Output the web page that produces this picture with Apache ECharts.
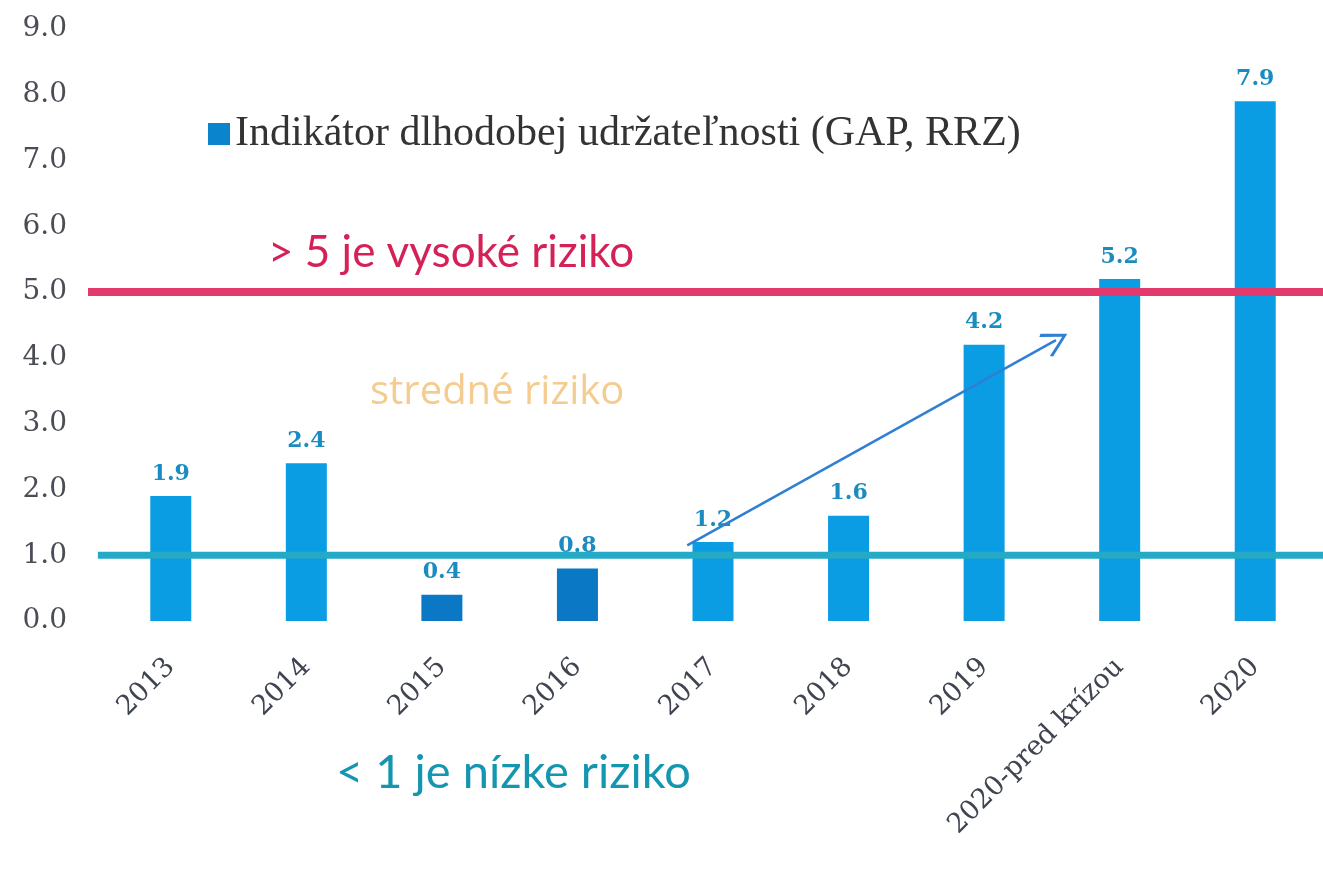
<!DOCTYPE html>
<html>
<head>
<meta charset="utf-8">
<script src="https://cdn.jsdelivr.net/npm/echarts@6/dist/echarts.min.js"></script>
<style>
  html, body { margin: 0; padding: 0; background: #fff; }
  #app { width: 1323px; height: 876px; }
</style>
</head>
<body>
<div id="app"></div>
<script>
const categories = ['2013', '2014', '2015', '2016', '2017', '2018', '2019', '2020-pred krízou', '2020']
const values = [1.9, 2.4, 0.4, 0.8, 1.2, 1.6, 4.2, 5.2, 7.9]
// 2015 a 2016 su tmavsie
const darkBars = [2, 3]
const highRisk = 5
const lowRisk = 1
// sipka: [index kategorie, hodnota]
const arrowFrom = [3.81, 1.15]
const arrowTo = [6.53, 4.27]

const echart = echarts.init(document.getElementById('app'))

const serif = 'DejaVu Serif'
const barColor = '#0a9de4'
const darkColor = '#0a78c4'

echart.setOption({
  animation: false,
  grid: [
    { left: 103, right: 0, top: 29, bottom: 255 },
    // siroka mriezka len pre hranicne ciary
    { left: 88, right: 0, top: 29, bottom: 255 }
  ],
  legend: {
    data: ['Indikátor dlhodobej udržateľnosti (GAP, RRZ)'],
    left: 203,
    top: 108,
    icon: 'rect',
    itemWidth: 22,
    itemHeight: 22,
    itemStyle: { color: '#0a84cc' },
    textStyle: {
      fontFamily: 'Liberation Serif',
      fontSize: 42,
      color: '#333'
    }
  },
  xAxis: [
    {
      type: 'category',
      data: categories,
      axisLine: { show: false },
      axisTick: { show: false },
      axisLabel: {
        interval: 0,
        rotate: 45,
        margin: 42,
        fontFamily: serif,
        fontSize: 27,
        color: '#3f4450'
      }
    },
    {
      // pomocna os pre sipku
      type: 'value',
      min: -0.5,
      max: 8.5,
      show: false
    },
    {
      type: 'value',
      gridIndex: 1,
      min: 0,
      max: 1,
      show: false
    }
  ],
  yAxis: [
    {
      type: 'value',
      min: 0,
      max: 9,
      interval: 1,
      axisLine: { show: false },
      axisTick: { show: false },
      splitLine: { show: false },
      axisLabel: {
        margin: 36,
        fontFamily: serif,
        fontSize: 28,
        color: '#4a4d55',
        formatter(v) {
          return v.toFixed(1)
        }
      }
    },
    {
      type: 'value',
      gridIndex: 1,
      min: 0,
      max: 9,
      show: false
    }
  ],
  series: [
    {
      name: 'Indikátor dlhodobej udržateľnosti (GAP, RRZ)',
      type: 'bar',
      barWidth: 41,
      data: values.map((v, i) => ({
        value: v,
        itemStyle: { color: darkBars.includes(i) ? darkColor : barColor }
      })),
      itemStyle: { color: barColor },
      label: {
        show: true,
        position: 'top',
        distance: 11,
        fontFamily: serif,
        fontWeight: 'bold',
        fontSize: 22,
        color: '#1a8cc0',
        formatter(p) {
          return p.value.toFixed(1)
        }
      },
      z: 2
    },
    {
      type: 'line',
      xAxisIndex: 2,
      yAxisIndex: 1,
      data: [[0, highRisk], [1, highRisk]],
      symbol: 'none',
      lineStyle: { color: '#e23a6c', width: 8 },
      z: 3
    },
    {
      type: 'line',
      xAxisIndex: 2,
      yAxisIndex: 1,
      data: [[0.008, lowRisk], [1, lowRisk]],
      symbol: 'none',
      lineStyle: { color: '#24aac6', width: 7 },
      z: 3
    },
    {
      type: 'lines',
      coordinateSystem: 'cartesian2d',
      xAxisIndex: 1,
      symbol: ['none', 'path://M0,0 L12,14 L10,15.5 L0,3.5 L-10,15.5 L-12,14 Z'],
      symbolSize: [26, 26],
      lineStyle: { color: '#2f7fd4', width: 2.5, opacity: 1 },
      data: [{ coords: [arrowFrom, arrowTo] }],
      z: 4
    }
  ],
  graphic: [
    {
      type: 'text',
      x: 268,
      y: 253,
      style: {
        text: '> 5 je vysoké riziko',
        font: '44px Lato',
        fill: '#d42257',
        verticalAlign: 'middle'
      }
    },
    {
      type: 'text',
      x: 370,
      y: 393,
      style: {
        text: 'stredné riziko',
        font: '40px "Open Sans"',
        fill: '#f5cc90',
        verticalAlign: 'middle'
      }
    },
    {
      type: 'text',
      x: 336,
      y: 773,
      style: {
        text: '< 1 je nízke riziko',
        font: '47px Lato',
        fill: '#1596b0',
        verticalAlign: 'middle'
      }
    }
  ]
})
</script>
</body>
</html>
